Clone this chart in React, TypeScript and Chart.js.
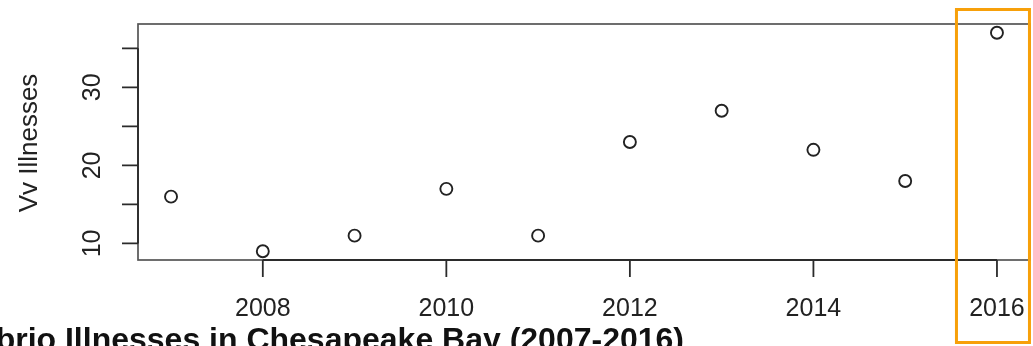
import React, { useEffect, useRef } from "react";
import { Chart, registerables } from "chart.js";

Chart.register(...registerables);

const years = [2007, 2008, 2009, 2010, 2011, 2012, 2013, 2014, 2015, 2016];
const illnesses = [16, 9, 11, 17, 11, 23, 27, 22, 18, 37];
const xTicks = [2008, 2010, 2012, 2014, 2016];
const yTicks = [10, 15, 20, 25, 30, 35];
const yTickLabels = ["10", "", "20", "", "30", ""];
const yTitle = "Vv Illnesses";
const mainTitle = "Vibrio Illnesses in Chesapeake Bay (2007-2016)";
const highlightYear = 2016;

const FONT = "'Liberation Sans', Arial, Helvetica, sans-serif";

const axesPlugin = {
  id: "rAxes",
  beforeDatasetsDraw(chart: any) {
    const { ctx, chartArea, scales } = chart;
    const { left, right, top, bottom } = chartArea;
    const xs = scales.x;
    const ys = scales.y;
    ctx.save();
    // box
    ctx.strokeStyle = "#555";
    ctx.lineWidth = 1.7;
    ctx.strokeRect(left, top, right - left, bottom - top);
    ctx.strokeStyle = "#2b2b2b";
    ctx.lineWidth = 1.8;
    // x axis
    const x0 = xs.getPixelForValue(xTicks[0]);
    const x1 = xs.getPixelForValue(xTicks[xTicks.length - 1]);
    ctx.beginPath();
    ctx.moveTo(x0, bottom);
    ctx.lineTo(x1, bottom);
    xTicks.forEach((t) => {
      const px = xs.getPixelForValue(t);
      ctx.moveTo(px, bottom);
      ctx.lineTo(px, bottom + 17);
    });
    // y axis
    const y0 = ys.getPixelForValue(yTicks[0]);
    const y1 = ys.getPixelForValue(yTicks[yTicks.length - 1]);
    ctx.moveTo(left, y0);
    ctx.lineTo(left, y1);
    yTicks.forEach((t) => {
      const py = ys.getPixelForValue(t);
      ctx.moveTo(left, py);
      ctx.lineTo(left - 16, py);
    });
    ctx.stroke();

    ctx.fillStyle = "#222";
    ctx.font = `25px ${FONT}`;
    ctx.textAlign = "center";
    ctx.textBaseline = "alphabetic";
    xTicks.forEach((t) => {
      ctx.fillText(String(t), xs.getPixelForValue(t), 316);
    });
    yTicks.forEach((t, i) => {
      const lbl = yTickLabels[i];
      if (!lbl) return;
      ctx.save();
      ctx.translate(100, ys.getPixelForValue(t));
      ctx.rotate(-Math.PI / 2);
      ctx.fillText(lbl, 0, 0);
      ctx.restore();
    });
    // y title
    ctx.save();
    ctx.font = `26px ${FONT}`;
    ctx.translate(37, (top + bottom) / 2 + 1);
    ctx.rotate(-Math.PI / 2);
    ctx.fillText(yTitle, 0, 0);
    ctx.restore();
    // main title
    ctx.font = `bold 32px ${FONT}`;
    ctx.textAlign = "right";
    ctx.fillStyle = "#111";
    ctx.fillText(mainTitle, 684, 350);
    ctx.restore();
  },
  afterDraw(chart: any) {
    const { ctx, scales } = chart;
    const px = scales.x.getPixelForValue(highlightYear);
    ctx.save();
    ctx.strokeStyle = "#F7A00A";
    ctx.lineWidth = 3;
    ctx.strokeRect(px - 40.5, 9.5, 73, 333);
    ctx.restore();
  },
};

export default function App() {
  const ref = useRef<HTMLCanvasElement>(null);
  useEffect(() => {
    if (!ref.current) return;
    const chart = new Chart(ref.current, {
      type: "scatter",
      data: {
        datasets: [
          {
            data: years.map((y, i) => ({ x: y, y: illnesses[i] })),
            pointRadius: 6,
            pointBorderWidth: 1.9,
            pointBorderColor: "#222",
            pointBackgroundColor: "rgba(0,0,0,0)",
            showLine: false,
            clip: false,
          },
        ],
      },
      options: {
        animation: false,
        responsive: false,
        devicePixelRatio: 1,
        layout: { autoPadding: false, padding: { left: 138, top: 24, right: 3, bottom: 86 } },
        plugins: { legend: { display: false }, tooltip: { enabled: false }, title: { display: false } },
        scales: {
          x: { type: "linear", min: 2006.64, max: 2016.36, display: false },
          y: { type: "linear", min: 7.88, max: 38.12, display: false },
        },
      },
      plugins: [axesPlugin],
    });
    return () => chart.destroy();
  }, []);
  return (
    <div style={{ position: "absolute", left: 0, top: 0, width: 1033, height: 346, background: "#fff" }}>
      <canvas ref={ref} width={1033} height={346} />
    </div>
  );
}
